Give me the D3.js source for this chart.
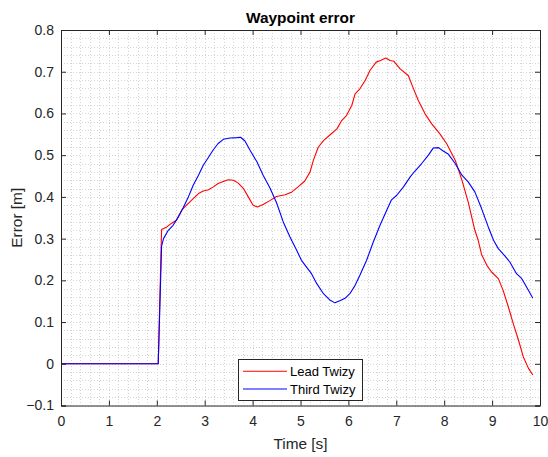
<!DOCTYPE html>
<html>
<head>
<meta charset="utf-8">
<script src="https://cdn.jsdelivr.net/npm/d3@7"></script>
<style>
  html, body { margin: 0; padding: 0; background: #fff; }
  svg { display: block; }
  text { font-family: "Liberation Sans", Arial, Helvetica, sans-serif; }
</style>
</head>
<body>
<svg id="chart" width="548" height="457"></svg>
<script>
// ---- data ----
const chartTitle = "Waypoint error";
const xLabel = "Time [s]";
const yLabel = "Error [m]";
const xTicks = [0, 1, 2, 3, 4, 5, 6, 7, 8, 9, 10];
const yTicks = [-0.1, 0, 0.1, 0.2, 0.3, 0.4, 0.5, 0.6, 0.7, 0.8];
const seriesNames = ["Lead Twizy", "Third Twizy"];

const leadTime = [0, 2.03, 2.10, 2.21, 2.31, 2.41, 2.52, 2.62, 2.76, 2.87, 2.97, 3.08, 3.18, 3.28, 3.39, 3.49, 3.60, 3.70, 3.81, 3.91, 4.01, 4.10, 4.22, 4.36, 4.50, 4.68, 4.82, 4.95, 5.09, 5.20, 5.27, 5.37, 5.48, 5.62, 5.76, 5.86, 5.96, 6.07, 6.14, 6.24, 6.35, 6.45, 6.58, 6.67, 6.78, 6.87, 6.95, 7.08, 7.25, 7.36, 7.46, 7.60, 7.74, 7.91, 8.05, 8.23, 8.37, 8.50, 8.64, 8.71, 8.78, 8.89, 8.99, 9.13, 9.23, 9.34, 9.44, 9.55, 9.65, 9.76, 9.85];
const leadError = [0, 0, 0.322, 0.328, 0.337, 0.344, 0.368, 0.380, 0.396, 0.408, 0.414, 0.417, 0.424, 0.432, 0.437, 0.441, 0.440, 0.433, 0.420, 0.400, 0.380, 0.376, 0.382, 0.391, 0.401, 0.405, 0.412, 0.424, 0.438, 0.460, 0.488, 0.519, 0.535, 0.549, 0.563, 0.583, 0.595, 0.619, 0.647, 0.659, 0.679, 0.703, 0.723, 0.727, 0.733, 0.727, 0.725, 0.707, 0.691, 0.659, 0.631, 0.599, 0.575, 0.551, 0.528, 0.488, 0.440, 0.388, 0.320, 0.296, 0.262, 0.236, 0.220, 0.204, 0.176, 0.136, 0.097, 0.057, 0.017, -0.011, -0.027];

const thirdTime = [0, 2.03, 2.10, 2.14, 2.24, 2.34, 2.45, 2.55, 2.66, 2.76, 2.87, 2.97, 3.08, 3.18, 3.28, 3.39, 3.53, 3.67, 3.75, 3.84, 3.95, 4.09, 4.22, 4.36, 4.50, 4.64, 4.78, 4.92, 5.02, 5.13, 5.23, 5.34, 5.48, 5.62, 5.72, 5.82, 5.93, 6.03, 6.14, 6.24, 6.38, 6.52, 6.66, 6.80, 6.90, 7.01, 7.15, 7.29, 7.39, 7.53, 7.67, 7.77, 7.88, 7.98, 8.09, 8.23, 8.37, 8.50, 8.64, 8.78, 8.92, 9.03, 9.13, 9.27, 9.37, 9.51, 9.62, 9.74, 9.85];
const thirdError = [0, 0, 0.282, 0.300, 0.320, 0.332, 0.352, 0.374, 0.400, 0.428, 0.452, 0.476, 0.495, 0.513, 0.528, 0.538, 0.541, 0.542, 0.543, 0.534, 0.511, 0.484, 0.452, 0.422, 0.386, 0.340, 0.304, 0.272, 0.248, 0.231, 0.216, 0.192, 0.168, 0.152, 0.146, 0.151, 0.157, 0.168, 0.188, 0.212, 0.248, 0.292, 0.332, 0.368, 0.393, 0.404, 0.424, 0.448, 0.462, 0.480, 0.500, 0.517, 0.518, 0.510, 0.502, 0.480, 0.452, 0.436, 0.412, 0.372, 0.328, 0.296, 0.276, 0.258, 0.244, 0.216, 0.204, 0.180, 0.157];

const seriesColors = ["#ff0000", "#0000ff"];

// ---- layout ----
const W = 548, H = 457;
const m = { left: 61, right: 8, top: 30, bottom: 51.5 };
const iw = W - m.left - m.right, ih = H - m.top - m.bottom;
const axisColor = "#262626";

const svg = d3.select("#chart");
const g = svg.append("g").attr("transform", `translate(${m.left},${m.top})`);

const x = d3.scaleLinear().domain([0, 10]).range([0, iw]);
const y = d3.scaleLinear().domain([-0.1, 0.8]).range([ih, 0]);

// minor grid (dotted)
const xMinor = d3.range(0, 10.0001, 0.2).map(v => +v.toFixed(2));
const yMinor = d3.range(-0.1, 0.8001, 0.02).map(v => +v.toFixed(3));
const grid = g.append("g");
grid.selectAll(".xm").data(xMinor).join("line")
  .attr("x1", d => Math.round(x(d)) + 0.5).attr("x2", d => Math.round(x(d)) + 0.5)
  .attr("y1", 0).attr("y2", ih)
  .attr("stroke", "#d4d4d4").attr("stroke-width", 1).attr("stroke-dasharray", "1,2");
grid.selectAll(".ym").data(yMinor).join("line")
  .attr("y1", d => Math.round(y(d)) + 0.5).attr("y2", d => Math.round(y(d)) + 0.5)
  .attr("x1", 0).attr("x2", iw)
  .attr("stroke", "#d4d4d4").attr("stroke-width", 1).attr("stroke-dasharray", "1,2");

// lines
const leadData = leadTime.map((t, i) => [t, leadError[i]]);
const thirdData = thirdTime.map((t, i) => [t, thirdError[i]]);
const line = d3.line().x(d => x(d[0])).y(d => y(d[1]));
[leadData, thirdData].forEach((data, i) => {
  g.append("path").datum(data).attr("d", line)
    .attr("fill", "none").attr("stroke", seriesColors[i]).attr("stroke-width", 1.1)
    .attr("stroke-linejoin", "round");
});

// axes (ticks inward)
const tickLen = 5;
const fmtY = d => (Math.abs(d) < 1e-9 ? "0" : d3.format(".1f")(d));
const xAxisB = d3.axisBottom(x).tickValues(xTicks).tickSize(-tickLen).tickPadding(10.5).tickFormat(d3.format("d"));
const xAxisT = d3.axisTop(x).tickValues(xTicks).tickSize(-tickLen).tickFormat("");
const yAxisL = d3.axisLeft(y).tickValues(yTicks).tickSize(-tickLen).tickPadding(7).tickFormat(fmtY);
const yAxisR = d3.axisRight(y).tickValues(yTicks).tickSize(-tickLen).tickFormat("");

function style(sel) {
  sel.select(".domain").attr("stroke", axisColor);
  sel.selectAll(".tick line").attr("stroke", axisColor);
  sel.selectAll(".tick text").attr("fill", axisColor).style("font-size", "14px")
    .style("font-family", '"Liberation Sans", Arial, sans-serif');
}
g.append("g").attr("transform", `translate(0,${ih})`).call(xAxisB).call(style);
g.append("g").call(xAxisT).call(style);
g.append("g").call(yAxisL).call(style);
g.append("g").attr("transform", `translate(${iw},0)`).call(yAxisR).call(style);

// title & labels
svg.append("text").attr("x", m.left + iw / 2).attr("y", 22.5)
  .attr("text-anchor", "middle").attr("fill", "#000")
  .style("font-size", "15.4px").style("font-weight", "bold").text(chartTitle);
svg.append("text").attr("x", m.left + iw / 2).attr("y", 449)
  .attr("text-anchor", "middle").attr("fill", axisColor)
  .style("font-size", "15.4px").text(xLabel);
svg.append("text").attr("transform", `translate(21.5,${m.top + ih / 2}) rotate(-90)`)
  .attr("text-anchor", "middle").attr("fill", axisColor)
  .style("font-size", "15.4px").text(yLabel);

// legend
const lg = svg.append("g").attr("transform", "translate(238,359)");
lg.append("rect").attr("x", 0.5).attr("y", 0.5).attr("width", 124).attr("height", 41)
  .attr("fill", "#fff").attr("stroke", axisColor).attr("stroke-width", 1);
seriesNames.forEach((name, i) => {
  const yy = 12.3 + i * 17.7;
  lg.append("line").attr("x1", 5).attr("x2", 49).attr("y1", yy).attr("y2", yy)
    .attr("stroke", seriesColors[i]).attr("stroke-width", 1.1);
  lg.append("text").attr("x", 52).attr("y", yy + 4.5).attr("fill", "#000")
    .style("font-size", "13px").text(name);
});
</script>
</body>
</html>
